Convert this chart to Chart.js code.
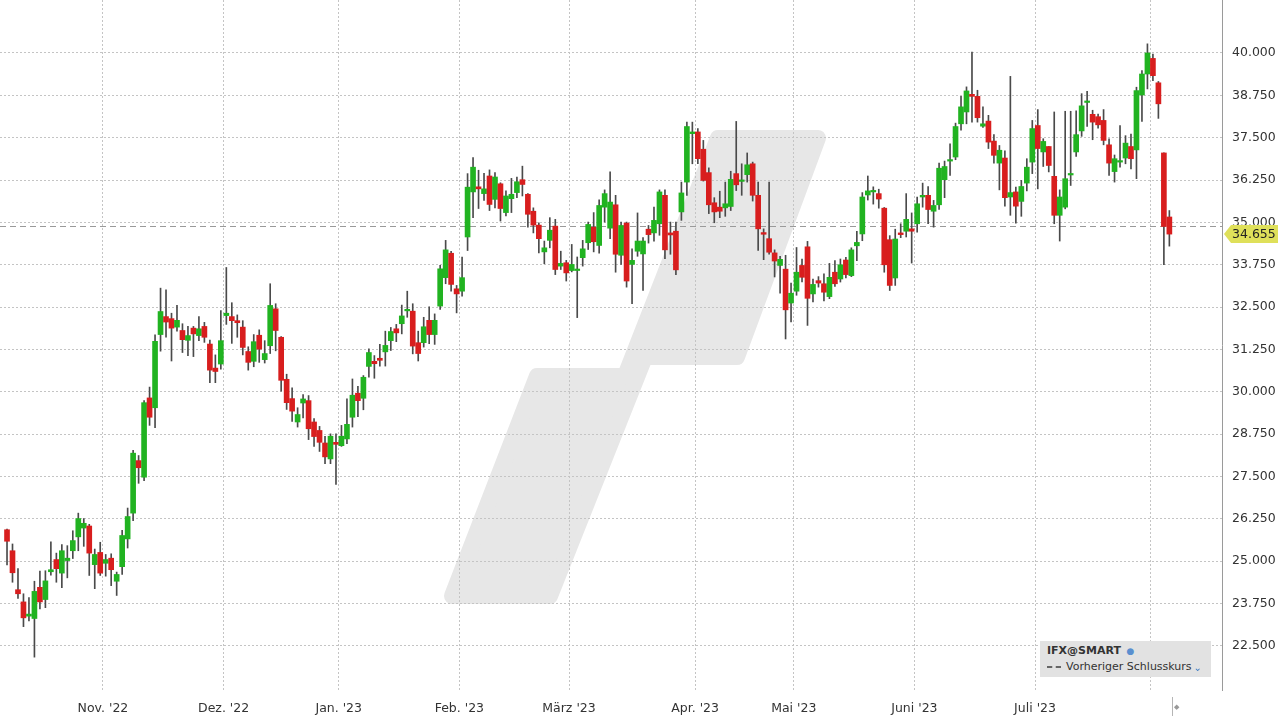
<!DOCTYPE html>
<html lang="de">
<head>
<meta charset="UTF-8">
<title>IFX@SMART</title>
<script src="https://cdn.jsdelivr.net/npm/chart.js"></script>
<style>
    body { margin: 0; background: #fff; font-family: "DejaVu Sans", sans-serif; }
    .wrap { position: relative; width: 1280px; height: 720px; }
    canvas { display: block; }
    .legend {
        position: absolute; left: 1040px; top: 641px; width: 171px; height: 36px;
        background: #e2e2e2; font-size: 11px; color: #333; line-height: 16px;
        padding: 2px 7px; box-sizing: border-box;
    }
    .legend b { font-weight: bold; }
    .legend .dash { display: inline-block; width: 14px; border-top: 2px dashed #666; vertical-align: middle; margin-right: 5px; }
    .legend .ico { color: #5a8fcf; font-size: 9px; margin-left: 2px; }
    .legend .chev { position: absolute; right: 9px; bottom: 4px; color: #3b7bc4; font-size: 10px; line-height: 10px; }
    .scroller { position: absolute; left: 1172px; top: 697px; width: 1px; height: 19px; background: #b5b5b5; }
    .knob { position: absolute; left: 1174px; top: 703px; font-size: 7px; color: #999; }
</style>
</head>
<body>
<div class="wrap">
    <canvas id="chart" width="1280" height="720"></canvas>
    <div class="legend">
        <div><b>IFX@SMART</b> <span class="ico">&#9679;</span></div>
        <div><span class="dash"></span>Vorheriger Schlusskurs</div>
        <span class="chev">&#8964;</span>
    </div>
    <div class="scroller"></div>
    <div class="knob">&#9670;</div>
</div>
<script>
// one candle per trading day, 6 Oct 2022 .. 4 Aug 2023
const opens = [25.93,25.31,24.16,23.80,23.38,23.31,24.23,23.87,24.69,25.05,24.65,25.02,25.31,25.72,25.98,26.04,24.90,25.26,
    24.94,25.09,24.41,24.84,25.66,26.42,27.97,27.48,29.82,29.53,31.69,32.22,32.16,31.91,31.81,31.52,31.88,31.66,31.93,31.41,30.70,30.82,
    32.25,32.22,32.10,31.91,31.19,30.90,31.67,30.95,31.36,32.45,31.61,30.37,29.80,29.11,29.67,29.74,29.11,28.86,28.49,28.02,28.51,
    28.41,28.61,29.25,29.96,29.81,30.75,30.90,30.99,31.18,31.51,31.86,32.01,32.39,32.38,31.45,31.45,32.11,31.69,32.53,33.37,34.09,33.04,
    32.97,34.57,35.90,36.05,35.85,36.37,35.68,36.14,35.29,35.70,35.88,36.26,35.83,35.33,34.92,34.13,34.47,34.89,33.71,33.81,
    33.58,33.58,33.96,34.40,34.86,34.32,35.45,34.83,35.52,34.03,34.98,33.76,34.15,34.07,34.80,34.69,34.96,35.80,34.69,34.74,35.31,36.19,
    37.62,37.67,37.16,36.47,35.58,35.45,35.43,35.47,36.44,36.21,36.41,36.73,35.80,34.70,34.52,34.10,33.73,33.62,32.62,32.97,33.73,
    34.28,32.89,33.28,33.19,32.81,33.53,33.33,33.89,33.43,34.31,34.66,35.81,35.90,35.85,35.42,34.49,33.36,34.69,34.74,34.81,34.96,
    35.75,35.80,35.33,35.52,36.26,36.81,36.93,37.91,38.26,38.78,38.72,37.84,37.99,37.40,36.75,36.90,35.75,35.90,35.62,36.16,36.78,
    37.86,37.08,37.24,36.36,35.21,35.45,36.40,37.08,37.70,38.54,38.19,38.12,38.01,37.29,36.50,36.78,36.90,37.24,37.14,38.76,39.38,
    39.84,39.12,37.05,35.16];
const highs = [25.95,25.51,24.78,24.04,23.93,24.41,24.71,24.72,25.57,25.24,25.49,25.46,25.90,26.42,26.26,26.09,25.36,25.56,
    25.20,25.22,24.68,25.91,26.57,28.27,28.12,29.74,30.14,31.68,33.06,33.01,32.32,32.55,32.01,31.93,31.93,32.22,32.05,31.53,31.09,32.40,
    33.67,32.63,32.27,32.10,31.33,31.69,31.83,31.51,33.19,32.60,31.63,30.52,30.12,29.53,29.92,29.89,29.21,28.98,28.69,28.76,28.76,
    29.01,29.79,30.38,30.16,30.48,31.27,31.07,31.40,31.79,31.90,31.99,32.56,32.97,32.60,31.79,32.20,32.51,32.30,33.73,34.47,34.15,33.14,
    33.98,36.44,36.91,36.54,36.45,36.55,36.47,36.17,35.93,36.30,36.34,36.66,35.85,35.43,34.99,34.45,35.14,35.09,34.15,33.88,
    34.35,33.98,34.47,35.01,35.29,35.67,35.96,36.49,35.80,35.01,35.01,34.22,35.28,34.55,34.91,35.45,35.96,35.96,35.01,35.01,36.19,37.96,
    37.96,37.77,37.42,36.61,35.73,35.92,36.19,36.51,37.98,36.73,37.05,36.78,36.19,34.81,36.19,34.19,34.00,34.03,33.21,34.26,33.92,
    34.44,33.33,33.40,33.48,33.79,33.87,33.92,33.97,34.25,34.74,35.88,36.37,36.05,35.98,35.44,34.61,34.80,34.96,35.85,35.28,35.75,
    36.16,36.06,35.65,36.75,36.81,37.32,37.93,38.72,39.00,40.03,38.90,38.41,38.16,37.59,37.27,37.11,39.31,36.04,36.24,36.88,38.01,
    38.33,37.47,37.24,38.26,35.96,38.28,38.28,38.29,38.80,38.87,38.31,38.20,38.33,37.47,36.99,37.86,37.56,37.61,38.99,39.48,40.27,
    39.97,39.16,37.05,35.35];
const lows = [24.89,24.38,23.90,23.07,23.24,22.17,23.59,23.63,24.59,24.38,24.22,24.51,25.08,25.31,25.44,24.58,24.19,24.58,
    24.56,24.28,23.99,24.61,25.39,26.20,27.30,27.38,29.01,28.94,31.20,31.61,30.91,31.79,31.16,31.07,31.04,31.51,31.46,30.27,30.27,30.67,
    31.99,31.43,31.61,31.09,30.64,30.74,30.87,30.85,31.13,31.21,30.02,29.48,29.13,28.96,29.23,28.59,28.39,28.24,27.88,27.88,27.27,
    28.39,28.47,28.96,29.27,29.47,30.43,30.40,30.76,30.76,31.22,31.48,31.71,32.20,31.12,30.91,31.32,31.42,31.40,32.43,33.19,32.97,32.33,
    32.82,34.17,35.14,35.41,35.65,35.35,35.43,35.04,35.19,35.29,35.73,35.78,34.86,34.69,34.10,33.78,34.25,33.46,33.61,33.27,
    33.54,32.19,33.71,34.20,34.13,34.09,35.01,34.52,33.53,33.76,33.09,32.60,34.00,32.99,34.39,34.45,34.62,33.93,34.06,33.46,35.06,35.80,
    36.73,36.73,36.22,35.26,34.99,35.14,35.18,35.35,35.94,35.80,36.19,35.63,34.17,33.90,34.06,33.39,32.91,31.56,32.06,32.85,33.24,
    31.96,32.65,33.09,32.68,32.75,33.11,33.24,33.36,33.40,33.87,34.46,35.66,35.54,35.42,33.53,32.99,33.14,34.55,34.57,33.80,34.71,
    35.45,34.96,34.86,35.38,35.73,36.39,36.85,37.72,37.91,37.96,37.96,37.80,37.18,36.75,35.96,35.48,35.21,34.98,35.18,35.93,36.44,
    35.99,36.65,36.49,34.96,34.45,35.40,36.09,36.95,37.54,37.83,37.44,37.78,37.29,36.39,36.19,36.63,36.73,36.58,36.29,37.98,38.94,
    39.18,38.07,33.75,34.30];
const closes = [25.59,24.66,24.04,23.33,23.44,24.11,23.80,24.42,24.75,24.78,25.31,25.09,25.61,26.26,26.12,25.24,25.20,24.65,
    25.05,24.75,24.61,25.76,26.32,28.19,27.76,29.68,29.25,31.49,32.37,32.06,31.88,32.11,31.54,31.66,31.71,31.86,31.61,30.64,30.60,31.51,
    32.32,32.10,32.04,31.31,30.87,31.48,31.26,31.13,32.55,31.81,30.34,29.68,29.43,29.33,29.79,28.91,28.68,28.51,28.08,28.69,28.45,
    28.69,29.04,29.90,29.74,30.43,31.16,30.83,30.93,31.37,31.78,31.74,32.24,32.43,31.35,31.13,31.92,31.69,32.11,33.63,34.19,33.17,32.89,
    33.37,36.04,36.63,35.99,35.99,35.53,36.34,35.41,35.78,35.83,36.20,36.12,35.24,34.92,34.52,34.25,34.77,33.61,33.79,33.51,
    33.76,33.61,34.22,34.94,34.43,35.50,35.85,35.60,34.06,34.91,33.27,33.88,34.45,34.45,34.64,35.06,35.90,34.19,34.63,33.60,35.87,37.83,
    37.67,36.88,36.24,35.52,35.31,35.33,35.55,36.27,36.11,36.24,36.70,35.80,34.81,34.65,34.12,33.86,33.91,32.42,32.91,33.53,33.38,
    32.76,33.17,33.21,32.94,33.38,33.19,33.75,33.46,34.19,34.41,35.75,35.93,35.93,35.69,33.75,33.14,34.51,34.64,35.09,34.74,35.55,
    35.80,35.38,35.50,36.60,36.65,36.85,37.83,38.41,38.88,38.72,38.09,37.91,37.37,36.98,37.13,35.73,35.88,35.48,36.06,36.63,37.77,
    37.18,37.39,36.68,35.21,35.75,36.29,36.44,37.59,38.44,38.58,37.96,37.88,37.42,36.75,36.88,36.82,37.34,36.88,38.89,39.38,40.00,
    39.33,38.50,34.88,34.655];

// month boundaries (between last and first trading day) and their labels
const monthTicks = [17.5, 39.5, 60.5, 82.5, 102.5, 125.5, 143.5, 165.5, 187.5, 208.5];
const monthLabels = ["Nov. '22", "Dez. '22", "Jan. '23", "Feb. '23", "März '23", "Apr. '23", "Mai '23", "Juni '23", "Juli '23", ""];
const priceTicks = [22.5, 23.75, 25, 26.25, 27.5, 28.75, 30, 31.25, 32.5, 33.75, 35, 36.25, 37.5, 38.75, 40];

const UP = '#21b321', DOWN = '#d81e1e';
const idx = closes.map((c, i) => i);
const candleColors = idx.map(i => closes[i] >= opens[i] ? UP : DOWN);
const prevClose = closes[closes.length - 2];
const lastClose = closes[closes.length - 1];

// grey logo in the background
const watermark = {
    id: 'watermark',
    beforeDraw(chart) {
        const ctx = chart.ctx;
        ctx.save();
        ctx.fillStyle = '#e7e7e7';
        ctx.strokeStyle = '#e7e7e7';
        ctx.lineWidth = 16;
        ctx.lineJoin = 'round';
        ctx.beginPath();
        ctx.moveTo(452, 596);
        ctx.lineTo(550, 596);
        ctx.lineTo(645, 357);
        ctx.lineTo(737, 357);
        ctx.lineTo(818, 138);
        ctx.lineTo(718, 138);
        ctx.lineTo(625, 376);
        ctx.lineTo(537, 376);
        ctx.closePath();
        ctx.fill();
        ctx.stroke();
        ctx.restore();
    }
};

// dashed previous close line
const prevLine = {
    id: 'prevLine',
    beforeDatasetsDraw(chart) {
        const {ctx, chartArea, scales} = chart;
        const y = Math.round(scales.y.getPixelForValue(prevClose)) + 0.5;
        ctx.save();
        ctx.strokeStyle = '#9a9a9a';
        ctx.lineWidth = 1;
        ctx.setLineDash([6, 4]);
        ctx.beginPath();
        ctx.moveTo(chartArea.left, y);
        ctx.lineTo(chartArea.right, y);
        ctx.stroke();
        ctx.restore();
    }
};

// yellow tag with the last price on the axis
const priceTag = {
    id: 'priceTag',
    afterDraw(chart) {
        const {ctx, chartArea, scales} = chart;
        const y = scales.y.getPixelForValue(lastClose);
        const x = chartArea.right + 2;
        ctx.save();
        ctx.fillStyle = '#dfe05a';
        ctx.beginPath();
        ctx.moveTo(x, y);
        ctx.lineTo(x + 7, y - 9);
        ctx.lineTo(x + 54, y - 9);
        ctx.lineTo(x + 54, y + 9);
        ctx.lineTo(x + 7, y + 9);
        ctx.closePath();
        ctx.fill();
        ctx.fillStyle = '#222';
        ctx.font = '12.5px "DejaVu Sans"';
        ctx.textBaseline = 'middle';
        ctx.fillText(lastClose.toFixed(3), x + 8, y + 1);
        ctx.restore();
    }
};

const noPad = s => { s.paddingTop = 0; s.paddingBottom = 0; s.paddingLeft = 0; s.paddingRight = 0; };

new Chart(document.getElementById('chart'), {
    type: 'bar',
    data: {
        datasets: [
            {
                data: idx.map(i => ({x: i, y: [opens[i], closes[i]]})),
                backgroundColor: candleColors,
                borderWidth: 0,
                barThickness: 5,
                minBarLength: 1.5,
                grouped: false
            },
            {
                data: idx.map(i => ({x: i, y: [lows[i], highs[i]]})),
                backgroundColor: '#4a4a4a',
                borderWidth: 0,
                barThickness: 1,
                grouped: false
            }
        ]
    },
    options: {
        responsive: false,
        animation: false,
        layout: { padding: 0 },
        plugins: { legend: { display: false }, tooltip: { enabled: false } },
        scales: {
            x: {
                type: 'linear',
                min: -1.28,
                max: 221.6,
                offset: false,
                grid: { offset: false, color: '#c4c4c4', drawTicks: false },
                border: { display: false, dash: [2, 2] },
                afterBuildTicks: s => { s.ticks = monthTicks.map(v => ({value: v})); },
                afterFit: s => { s.height = 30; noPad(s); },
                ticks: {
                    autoSkip: false,
                    maxRotation: 0,
                    padding: 11,
                    color: '#333',
                    font: { family: 'DejaVu Sans', size: 12.5 },
                    callback: (v, i) => monthLabels[i]
                }
            },
            y: {
                position: 'right',
                min: 21.2,
                max: 41.564,
                beginAtZero: false,
                grid: { color: '#c4c4c4', drawTicks: false },
                border: { display: true, color: '#9a9a9a', dash: [2, 2] },
                afterBuildTicks: s => { s.ticks = priceTicks.map(v => ({value: v})); },
                afterFit: s => { s.width = 58; noPad(s); },
                ticks: {
                    padding: 10,
                    color: '#333',
                    font: { family: 'DejaVu Sans', size: 12.5 },
                    callback: v => v.toFixed(3)
                }
            }
        }
    },
    plugins: [watermark, prevLine, priceTag]
});
</script>
</body>
</html>
